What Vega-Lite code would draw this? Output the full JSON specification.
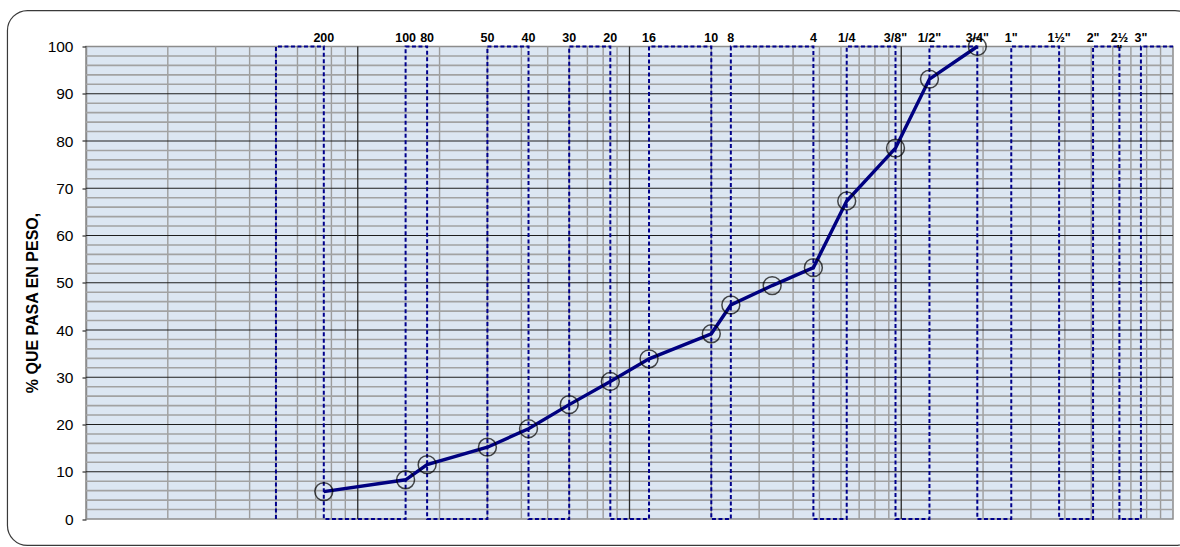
{
  "$schema": "https://vega.github.io/schema/vega-lite/v6.json",
  "width": 1087,
  "height": 472.5,
  "autosize": "none",
  "padding": {"left": 86, "top": 46.5, "right": 7, "bottom": 28},
  "background": "#ffffff",
  "config": {
    "view": {"fill": "#dce6f2", "stroke": "#8c8c8c", "strokeWidth": 1.5},
    "font": "Liberation Sans",
    "axisY": {
      "values": [0, 10, 20, 30, 40, 50, 60, 70, 80, 90, 100],
      "grid": false,
      "domainColor": "#8c8c8c",
      "domainWidth": 1.5,
      "tickColor": "#000000",
      "tickSize": 4,
      "labelFont": "Liberation Sans",
      "labelFontSize": 15.5,
      "labelColor": "#000000",
      "labelPadding": 9,
      "titleFont": "Liberation Sans",
      "titleFontSize": 16,
      "titleFontWeight": "bold",
      "titleColor": "#000000",
      "titleAngle": 270,
      "titleAlign": "center",
      "titleBaseline": "middle",
      "titleX": -54,
      "titleY": 256
    }
  },
  "datasets": {
    "minorX": [
      {"mm": 0.02}, {"mm": 0.03}, {"mm": 0.04}, {"mm": 0.05}, {"mm": 0.06}, {"mm": 0.07}, {"mm": 0.08}, {"mm": 0.09},
      {"mm": 0.2}, {"mm": 0.3}, {"mm": 0.4}, {"mm": 0.5}, {"mm": 0.6}, {"mm": 0.7}, {"mm": 0.8}, {"mm": 0.9},
      {"mm": 2}, {"mm": 3}, {"mm": 4}, {"mm": 5}, {"mm": 6}, {"mm": 7}, {"mm": 8}, {"mm": 9},
      {"mm": 20}, {"mm": 30}, {"mm": 40}, {"mm": 50}, {"mm": 60}, {"mm": 70}, {"mm": 80}, {"mm": 90}
    ],
    "majorX": [{"mm": 0.1}, {"mm": 1}, {"mm": 10}],
    "minorY": [
      {"pct": 2}, {"pct": 4}, {"pct": 6}, {"pct": 8},
      {"pct": 12}, {"pct": 14}, {"pct": 16}, {"pct": 18},
      {"pct": 22}, {"pct": 24}, {"pct": 26}, {"pct": 28},
      {"pct": 32}, {"pct": 34}, {"pct": 36}, {"pct": 38},
      {"pct": 42}, {"pct": 44}, {"pct": 46}, {"pct": 48},
      {"pct": 52}, {"pct": 54}, {"pct": 56}, {"pct": 58},
      {"pct": 62}, {"pct": 64}, {"pct": 66}, {"pct": 68},
      {"pct": 72}, {"pct": 74}, {"pct": 76}, {"pct": 78},
      {"pct": 82}, {"pct": 84}, {"pct": 86}, {"pct": 88},
      {"pct": 92}, {"pct": 94}, {"pct": 96}, {"pct": 98}
    ],
    "majorY": [
      {"pct": 10}, {"pct": 20}, {"pct": 30}, {"pct": 40}, {"pct": 50},
      {"pct": 60}, {"pct": 70}, {"pct": 80}, {"pct": 90}
    ],
    "sieveLines": [
      {"step": 1, "mm": 0.05, "pct": 0}, {"step": 2, "mm": 0.05, "pct": 100},
      {"step": 3, "mm": 0.075, "pct": 100}, {"step": 4, "mm": 0.075, "pct": 0},
      {"step": 5, "mm": 0.15, "pct": 0}, {"step": 6, "mm": 0.15, "pct": 100},
      {"step": 7, "mm": 0.18, "pct": 100}, {"step": 8, "mm": 0.18, "pct": 0},
      {"step": 9, "mm": 0.3, "pct": 0}, {"step": 10, "mm": 0.3, "pct": 100},
      {"step": 11, "mm": 0.425, "pct": 100}, {"step": 12, "mm": 0.425, "pct": 0},
      {"step": 13, "mm": 0.6, "pct": 0}, {"step": 14, "mm": 0.6, "pct": 100},
      {"step": 15, "mm": 0.85, "pct": 100}, {"step": 16, "mm": 0.85, "pct": 0},
      {"step": 17, "mm": 1.18, "pct": 0}, {"step": 18, "mm": 1.18, "pct": 100},
      {"step": 19, "mm": 2.0, "pct": 100}, {"step": 20, "mm": 2.0, "pct": 0},
      {"step": 21, "mm": 2.36, "pct": 0}, {"step": 22, "mm": 2.36, "pct": 100},
      {"step": 23, "mm": 4.75, "pct": 100}, {"step": 24, "mm": 4.75, "pct": 0},
      {"step": 25, "mm": 6.3, "pct": 0}, {"step": 26, "mm": 6.3, "pct": 100},
      {"step": 27, "mm": 9.525, "pct": 100}, {"step": 28, "mm": 9.525, "pct": 0},
      {"step": 29, "mm": 12.7, "pct": 0}, {"step": 30, "mm": 12.7, "pct": 100},
      {"step": 31, "mm": 19.05, "pct": 100}, {"step": 32, "mm": 19.05, "pct": 0},
      {"step": 33, "mm": 25.4, "pct": 0}, {"step": 34, "mm": 25.4, "pct": 100},
      {"step": 35, "mm": 38.1, "pct": 100}, {"step": 36, "mm": 38.1, "pct": 0},
      {"step": 37, "mm": 50.8, "pct": 0}, {"step": 38, "mm": 50.8, "pct": 100},
      {"step": 39, "mm": 63.5, "pct": 100}, {"step": 40, "mm": 63.5, "pct": 0},
      {"step": 41, "mm": 76.2, "pct": 0}, {"step": 42, "mm": 76.2, "pct": 100},
      {"step": 43, "mm": 100, "pct": 100}
    ],
    "curve": [
      {"mm": 0.075, "pct": 5.8},
      {"mm": 0.15, "pct": 8.3},
      {"mm": 0.18, "pct": 11.5},
      {"mm": 0.3, "pct": 15.2},
      {"mm": 0.425, "pct": 19.1},
      {"mm": 0.6, "pct": 24.2},
      {"mm": 0.85, "pct": 29.1},
      {"mm": 1.18, "pct": 33.9},
      {"mm": 2.0, "pct": 39.2},
      {"mm": 2.36, "pct": 45.3},
      {"mm": 3.35, "pct": 49.4},
      {"mm": 4.75, "pct": 53.2},
      {"mm": 6.3, "pct": 67.3},
      {"mm": 9.525, "pct": 78.5},
      {"mm": 12.7, "pct": 93.1},
      {"mm": 19.05, "pct": 100}
    ],
    "labels": [
      {"mm": 0.075, "label": "200"},
      {"mm": 0.15, "label": "100"},
      {"mm": 0.18, "label": "80"},
      {"mm": 0.3, "label": "50"},
      {"mm": 0.425, "label": "40"},
      {"mm": 0.6, "label": "30"},
      {"mm": 0.85, "label": "20"},
      {"mm": 1.18, "label": "16"},
      {"mm": 2.0, "label": "10"},
      {"mm": 2.36, "label": "8"},
      {"mm": 4.75, "label": "4"},
      {"mm": 6.3, "label": "1/4"},
      {"mm": 9.525, "label": "3/8\""},
      {"mm": 12.7, "label": "1/2\""},
      {"mm": 19.05, "label": "3/4\""},
      {"mm": 25.4, "label": "1\""},
      {"mm": 38.1, "label": "1½\""},
      {"mm": 50.8, "label": "2\""},
      {"mm": 63.5, "label": "2½\n\""},
      {"mm": 76.2, "label": "3\""}
    ]
  },
  "layer": [
    {
      "data": {"name": "minorX"},
      "mark": {"type": "rule", "color": "#9c9c9c", "strokeWidth": 1.4},
      "encoding": {
        "x": {"field": "mm", "type": "quantitative", "scale": {"type": "log", "domain": [0.01, 100], "nice": false}, "axis": null}
      }
    },
    {
      "data": {"name": "minorY"},
      "mark": {"type": "rule", "color": "#a2a2a2", "strokeWidth": 1.6},
      "encoding": {
        "y": {"field": "pct", "type": "quantitative", "title": "% QUE PASA EN PESO,", "scale": {"domain": [0, 100], "nice": false, "zero": false}}
      }
    },
    {
      "data": {"name": "majorY"},
      "mark": {"type": "rule", "color": "#1e1e1e", "strokeWidth": 1.1},
      "encoding": {
        "y": {"field": "pct", "type": "quantitative", "title": "% QUE PASA EN PESO,"}
      }
    },
    {
      "data": {"name": "majorX"},
      "mark": {"type": "rule", "color": "#2a2a2a", "strokeWidth": 1.3},
      "encoding": {
        "x": {"field": "mm", "type": "quantitative", "axis": null}
      }
    },
    {
      "data": {"name": "sieveLines"},
      "mark": {"type": "line", "color": "#00008b", "strokeWidth": 2, "strokeDash": [4, 2.5], "clip": false},
      "encoding": {
        "x": {"field": "mm", "type": "quantitative", "axis": null},
        "y": {"field": "pct", "type": "quantitative", "title": "% QUE PASA EN PESO,"},
        "order": {"field": "step", "type": "quantitative"}
      }
    },
    {
      "data": {"name": "curve"},
      "mark": {"type": "line", "color": "#000080", "strokeWidth": 3.4, "clip": false},
      "encoding": {
        "x": {"field": "mm", "type": "quantitative", "axis": null},
        "y": {"field": "pct", "type": "quantitative", "title": "% QUE PASA EN PESO,"}
      }
    },
    {
      "data": {"name": "labels"},
      "mark": {
        "type": "text",
        "font": "Liberation Sans",
        "fontSize": 12.5,
        "fontWeight": "bold",
        "color": "#000000",
        "baseline": "alphabetic",
        "align": "center",
        "dy": -4.5,
        "lineBreak": "\n",
        "lineHeight": 12
      },
      "encoding": {
        "x": {"field": "mm", "type": "quantitative", "axis": null},
        "y": {"datum": 100, "type": "quantitative", "title": "% QUE PASA EN PESO,"},
        "text": {"field": "label", "type": "nominal"}
      }
    },
    {
      "data": {"name": "curve"},
      "mark": {"type": "point", "shape": "circle", "filled": false, "color": "#000000", "strokeWidth": 1.5, "size": 320, "clip": false},
      "encoding": {
        "x": {"field": "mm", "type": "quantitative", "axis": null},
        "y": {"field": "pct", "type": "quantitative", "title": "% QUE PASA EN PESO,"}
      }
    },
    {
      "data": {"values": [{}]},
      "mark": {"type": "rect", "fill": null, "stroke": "#3a3a3a", "strokeWidth": 1.2, "cornerRadius": 20, "clip": false},
      "encoding": {
        "x": {"datum": 0.00514, "type": "quantitative", "axis": null},
        "x2": {"datum": 120.5},
        "y": {"datum": 107.6, "type": "quantitative", "title": "% QUE PASA EN PESO,"},
        "y2": {"datum": -5.6}
      }
    }
  ]
}
